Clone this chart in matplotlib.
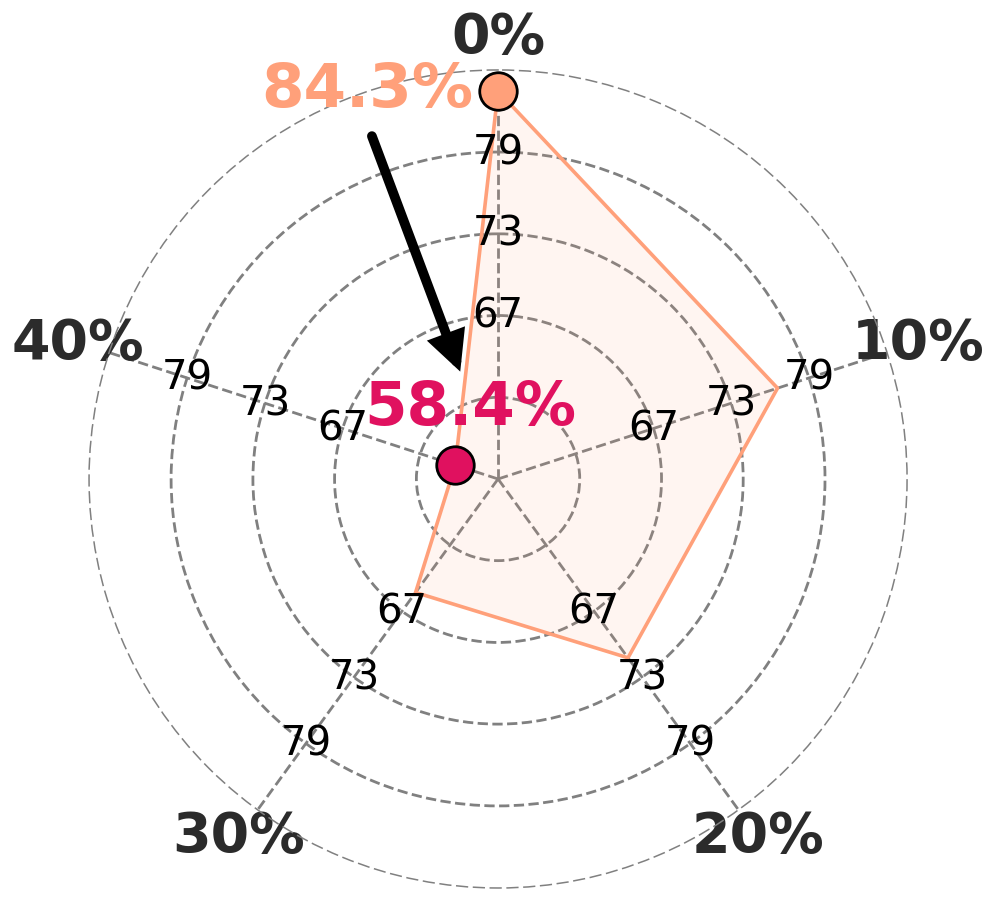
import numpy as np
import matplotlib.pyplot as plt

categories = ['0%', '10%', '20%', '30%', '40%']
values = [84.3, 77.2, 71.7, 65.6, 58.4]
r_ticks = [61.17, 67.35, 73.52, 79.7]
r_tick_labels = ['', '67', '73', '79']
r_min, r_max = 55, 85.9

line_color = '#FFA07A'
min_color = '#E0115F'
text_color = '#2b2b2b'

n = len(categories)
angles = np.arange(n) * 2 * np.pi / n

fig = plt.figure(figsize=(9.97, 9.04), dpi=100)
ax = fig.add_axes([0.0893, 0.0166, 0.8205, 0.9049], projection='polar')
ax.set_theta_offset(np.pi / 2)
ax.set_theta_direction(-1)
ax.set_ylim(r_min, r_max)

# polygon
closed_a = np.append(angles, angles[0])
closed_v = np.append(values, values[0])
ax.plot(closed_a, closed_v, color=line_color, lw=2.6, zorder=3)
ax.fill(closed_a, closed_v, color=line_color, alpha=0.1, zorder=2)

# grid
ax.set_xticks(angles)
ax.set_xticklabels(categories, fontsize=40, fontweight='bold', color=text_color)
ax.tick_params(axis='x', pad=13)
ax.set_yticks(r_ticks)
ax.set_yticklabels([])
ax.grid(True, color='gray', linestyle='--', lw=2)
ax.spines['polar'].set_linestyle((0, (7, 4)))
ax.spines['polar'].set_color('gray')
ax.spines['polar'].set_linewidth(1.1)

# radial labels on every spoke
for a in angles:
    for t, lab in zip(r_ticks, r_tick_labels):
        if lab:
            ax.text(a, t, lab, fontsize=29, ha='center', va='center', color='black', zorder=4)

# max / min markers
i_max = int(np.argmax(values))
i_min = int(np.argmin(values))
ax.plot(angles[i_max], values[i_max], 'o', ms=27, mfc=line_color, mec='black', mew=2, zorder=5)
ax.plot(angles[i_min], values[i_min], 'o', ms=27, mfc=min_color, mec='black', mew=2, zorder=5)

ax.text(np.deg2rad(341.4), 86.05, f'{values[i_max]}%', fontsize=44, fontweight='bold',
        color=line_color, ha='center', va='center', zorder=6)
ax.text(np.deg2rad(338.7), 60.8, f'{values[i_min]}%', fontsize=44, fontweight='bold',
        color=min_color, ha='center', va='center', zorder=6)

ax.annotate('', xy=(np.deg2rad(340.6), 63.6), xytext=(np.deg2rad(339.8), 82.6),
            arrowprops=dict(arrowstyle='-|>', color='black', lw=7, mutation_scale=45,
                            shrinkA=0, shrinkB=0, capstyle='round', joinstyle='miter'),
            zorder=6)

fig.savefig('out.png', dpi=100)
